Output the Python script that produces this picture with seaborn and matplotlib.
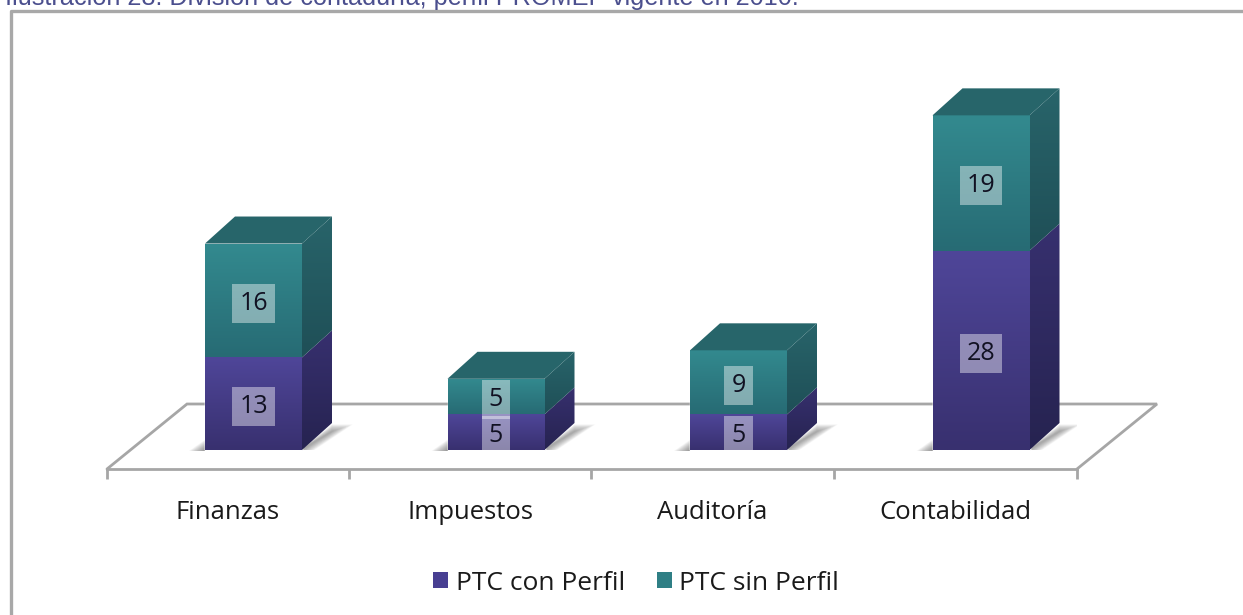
import numpy as np
import pandas as pd
import matplotlib
matplotlib.use("Agg")
import matplotlib.pyplot as plt
from matplotlib.patches import Polygon, Patch
from matplotlib.lines import Line2D
from matplotlib.colors import LinearSegmentedColormap
import seaborn as sns

categories = ["Finanzas", "Impuestos", "Auditoría", "Contabilidad"]
con_perfil = [13, 5, 5, 28]
sin_perfil = [16, 5, 9, 19]
series_names = ["PTC con Perfil", "PTC sin Perfil"]
title = "Ilustración 28: División de contaduría, perfil PROMEP vigente en 2010."

W, H = 1243, 615
sns.set_theme(style="white")
plt.rcParams["font.family"] = ["Open Sans", "DejaVu Sans"]

fig = plt.figure(figsize=(W / 100, H / 100), dpi=100, facecolor="white")
# axes rectangle in pixels
L, R, T, B = 107, 1077, 20, 469
ax = fig.add_axes([L / W, 1 - B / H, (R - L) / W, (B - T) / H])

PX_X = 242.5      # px per category
PX_Y = 7.12       # px per value unit
X0 = 253.5        # px of category 0 bar centre
Y0 = 450          # px of value 0

df = pd.DataFrame({"cat": categories, "con": con_perfil, "sin": sin_perfil})
df["total"] = df["con"] + df["sin"]

TEAL = "#2f7f85"
BLUE = "#483f92"
sns.barplot(data=df, x="cat", y="total", color=TEAL, saturation=1, width=0.4, ax=ax, zorder=4)
n_top = len(ax.patches)
sns.barplot(data=df, x="cat", y="con", color=BLUE, saturation=1, width=0.4, ax=ax, zorder=5)

ax.set_xlim((L - X0) / PX_X, (R - X0) / PX_X)
ax.set_ylim((Y0 - B) / PX_Y, (Y0 - T) / PX_Y)
ax.set_xlabel("")
ax.set_ylabel("")
ax.set_yticks([])

# depth of the 3-D boxes expressed in data units
dx, dy = 30 / PX_X, 27 / PX_Y
hw = 0.2

def vgrad(top, bottom, c1, c2, xl, xr, clip, z):
    cmap = LinearSegmentedColormap.from_list("g", [c1, c2])
    im = ax.imshow(np.linspace(0, 1, 128)[:, None], cmap=cmap, aspect="auto",
                   extent=(xl, xr, bottom, top), zorder=z)
    im.set_clip_path(clip)
    ax.set_xlim((L - X0) / PX_X, (R - X0) / PX_X)
    ax.set_ylim((Y0 - B) / PX_Y, (Y0 - T) / PX_Y)

# floor
gray = "#a6a6a6"
lx, rx = (L - X0) / PX_X, (R - X0) / PX_X
y_front = (Y0 - B) / PX_Y
y_back = (Y0 - 404) / PX_Y
fdx = 80 / PX_X
ax.add_line(Line2D([lx, lx + fdx, rx + fdx, rx], [y_front, y_back, y_back, y_front],
                   color=gray, lw=2.0, clip_on=False, zorder=1, solid_joinstyle="miter"))

# soft shadows on the floor, layered
N = 16
for i in range(len(categories)):
    xl, xr = i - hw, i + hw
    for k in range(N):
        g = 1 - k / (N - 1)
        ext = (1 + 20 * g) / PX_X
        ax.add_patch(Polygon([(xr - 0.01, 0), (xr + dx, dy * (0.70 + 0.25 * g)),
                              (xr + dx + ext, dy * (0.70 + 0.25 * g)), (xr + ext * 0.6, 0)],
                             closed=True, fc="#555555", ec="none", alpha=0.04, zorder=2))
        ax.add_patch(Polygon([(xl + 0.01, -1 / PX_Y), (xl - (1 + 15 * g) / PX_X, -1 / PX_Y),
                              (xl + 0.01, (2 + 10 * g) / PX_Y)],
                             closed=True, fc="#555555", ec="none", alpha=0.05, zorder=2))

# faces
for i, (a, b) in enumerate(zip(con_perfil, sin_perfil)):
    tot = a + b
    xl, xr = i - hw, i + hw
    vgrad(tot, a, "#338a8f", "#276b74", xl, xr, ax.patches[i], 6)
    vgrad(a, 0, "#4f4699", "#38306f", xl, xr, ax.patches[n_top + i], 6)
    side_low = Polygon([(xr, 0), (xr + dx, dy), (xr + dx, a + dy), (xr, a)], closed=True,
                       fc="none", ec="none")
    ax.add_patch(side_low)
    vgrad(a + dy, 0, "#37306f", "#262350", xr, xr + dx, side_low, 6)
    side_top = Polygon([(xr, a), (xr + dx, a + dy), (xr + dx, tot + dy), (xr, tot)], closed=True,
                       fc="none", ec="none")
    ax.add_patch(side_top)
    vgrad(tot + dy, a, "#28646a", "#1f4f57", xr, xr + dx, side_top, 6)
    ax.add_patch(Polygon([(xl, tot), (xl + dx, tot + dy), (xr + dx, tot + dy), (xr, tot)],
                         closed=True, fc="#27656a", ec="none", zorder=6, clip_on=False))
    for val, yc in ((a, a / 2), (b, a + b / 2)):
        ax.text(i, yc, str(val), ha="center", va="center_baseline", fontsize=18, color="#111122",
                zorder=8, bbox=dict(boxstyle="square,pad=0.28", fc="white", ec="none", alpha=0.42))

# axis
for s in ("top", "left", "right"):
    ax.spines[s].set_visible(False)
ax.spines["bottom"].set_color(gray)
ax.spines["bottom"].set_linewidth(2.0)
ax.patch.set_alpha(0)
edges = [(px - X0) / PX_X for px in (107, 349, 591, 834, 1077)]
centres = [(a + b) / 2 for a, b in zip(edges[:-1], edges[1:])]
ax.set_xticks(edges, [""] * len(edges))
ax.set_xticks(centres, categories, minor=True)
ax.tick_params(axis="x", which="major", length=7, width=2, color=gray, bottom=True)
ax.tick_params(axis="x", which="minor", length=0, pad=22.5, labelsize=18.5, labelcolor="#1a1a1a")

# legend
handles = [Patch(fc=BLUE, ec="none"), Patch(fc=TEAL, ec="none")]
fig.legend(handles, series_names, loc="center", bbox_to_anchor=(636 / W, 1 - 583 / H),
           ncol=2, frameon=False, fontsize=19, handlelength=0.57, handleheight=0.57,
           handletextpad=0.3, columnspacing=1.2, labelcolor="#1a1a1a")

# outer frame (left and top only) and the caption clipped by the picture edge
fig.add_artist(Line2D([11 / W, 11 / W, 1], [0, 1 - 11 / H, 1 - 11 / H],
                      color="#a8a8a8", lw=2.4, transform=fig.transFigure))
fig.text(5 / W, 1 - 4.5 / H, title, ha="left", va="baseline", fontsize=18.2, color="#4b4f8e",
         family=["Liberation Sans", "DejaVu Sans"])

fig.savefig("out.png", dpi=100)
